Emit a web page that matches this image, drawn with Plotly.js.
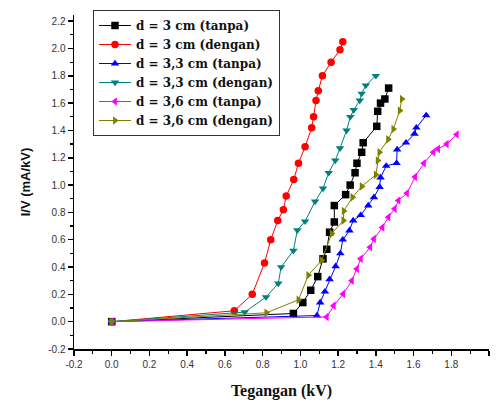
<!DOCTYPE html>
<html>
<head>
<meta charset="utf-8">
<script src="https://cdn.plot.ly/plotly-3.0.1.min.js"></script>
<style>html,body{margin:0;padding:0;background:#fff}#chart{width:496px;height:405px}</style>
</head>
<body>
<div id="chart"></div>
<script>
// Series names
const seriesNames = [
  "d = 3 cm (tanpa)",
  "d = 3 cm (dengan)",
  "d = 3,3 cm (tanpa)",
  "d = 3,3 cm (dengan)",
  "d = 3,6 cm (tanpa)",
  "d = 3,6 cm (dengan)"
];

// d = 3 cm (tanpa)
const x3tanpa = [0, 0.963, 1.013, 1.055, 1.092, 1.12, 1.14, 1.155, 1.18, 1.18, 1.24, 1.264, 1.29, 1.30, 1.325, 1.333, 1.405, 1.41, 1.425, 1.448, 1.468];
const y3tanpa = [0, 0.06, 0.14, 0.23, 0.33, 0.46, 0.53, 0.655, 0.73, 0.85, 0.93, 1.00, 1.09, 1.16, 1.24, 1.31, 1.43, 1.54, 1.60, 1.63, 1.71];

// d = 3 cm (dengan)
const x3dengan = [0, 0.65, 0.745, 0.81, 0.843, 0.88, 0.91, 0.925, 0.965, 0.99, 1.025, 1.06, 1.07, 1.083, 1.095, 1.117, 1.163, 1.21, 1.225];
const y3dengan = [0, 0.08, 0.20, 0.43, 0.60, 0.74, 0.82, 0.92, 1.04, 1.16, 1.28, 1.42, 1.50, 1.62, 1.69, 1.80, 1.90, 1.99, 2.05];

// d = 3,3 cm (tanpa)
const x33tanpa = [0, 1.088, 1.105, 1.13, 1.155, 1.187, 1.212, 1.225, 1.26, 1.28, 1.32, 1.36, 1.39, 1.42, 1.425, 1.455, 1.51, 1.513, 1.56, 1.605, 1.615, 1.667];
const y33tanpa = [0, 0.045, 0.14, 0.22, 0.31, 0.405, 0.50, 0.60, 0.667, 0.74, 0.78, 0.85, 0.91, 0.985, 1.055, 1.14, 1.16, 1.26, 1.31, 1.375, 1.42, 1.51];

// d = 3,3 cm (dengan)
const x33dengan = [0, 0.705, 0.818, 0.883, 0.898, 0.963, 0.984, 1.025, 1.078, 1.12, 1.15, 1.185, 1.21, 1.245, 1.265, 1.283, 1.315, 1.325, 1.347, 1.40];
const y33dengan = [0, 0.07, 0.18, 0.28, 0.40, 0.52, 0.67, 0.735, 0.88, 0.975, 1.09, 1.18, 1.27, 1.40, 1.50, 1.55, 1.62, 1.67, 1.73, 1.80];

// d = 3,6 cm (tanpa)
const x36tanpa = [0, 1.14, 1.177, 1.227, 1.273, 1.30, 1.32, 1.37, 1.39, 1.435, 1.467, 1.50, 1.52, 1.565, 1.608, 1.655, 1.705, 1.73, 1.776, 1.829];
const y36tanpa = [0, 0.035, 0.117, 0.203, 0.30, 0.386, 0.46, 0.545, 0.606, 0.69, 0.765, 0.826, 0.887, 0.94, 1.06, 1.16, 1.24, 1.265, 1.30, 1.37];

// d = 3,6 cm (dengan)
const x36dengan = [0, 0.82, 0.99, 1.042, 1.113, 1.166, 1.228, 1.23, 1.276, 1.325, 1.40, 1.41, 1.419, 1.465, 1.493, 1.527, 1.538];
const y36dengan = [0, 0.065, 0.16, 0.34, 0.45, 0.645, 0.74, 0.81, 0.91, 0.99, 1.075, 1.18, 1.24, 1.335, 1.41, 1.545, 1.63];

// Tick labels
const xTickVals = [-0.2, 0.0, 0.2, 0.4, 0.6, 0.8, 1.0, 1.2, 1.4, 1.6, 1.8, 2.0];
const xTickText = ["-0.2", "0.0", "0.2", "0.4", "0.6", "0.8", "1.0", "1.2", "1.4", "1.6", "1.8", "2.0"];
const yTickVals = [-0.2, 0.0, 0.2, 0.4, 0.6, 0.8, 1.0, 1.2, 1.4, 1.6, 1.8, 2.0, 2.2];
const yTickText = ["-0.2", "0.0", "0.2", "0.4", "0.6", "0.8", "1.0", "1.2", "1.4", "1.6", "1.8", "2.0", "2.2"];

const colors = ["#000000", "#ff0000", "#0000ff", "#008080", "#ff00ff", "#808000"];
const symbols = ["square", "circle", "triangle-up", "triangle-down", "triangle-left", "triangle-right"];
const xs = [x3tanpa, x3dengan, x33tanpa, x33dengan, x36tanpa, x36dengan];
const ys = [y3tanpa, y3dengan, y33tanpa, y33dengan, y36tanpa, y36dengan];

const traces = seriesNames.map((name, i) => ({
  type: "scatter",
  mode: "lines+markers",
  name: name,
  x: xs[i],
  y: ys[i],
  line: {color: colors[i], width: 1},
  marker: {color: colors[i], symbol: symbols[i], size: 7.5, line: {width: 0}}
}));

const W = 496, H = 405;
const M = {l: 74, r: 7, t: 15, b: 56};
const pw = W - M.l - M.r, ph = H - M.t - M.b;
const px2x = p => (p - M.l) / pw;
const py2y = p => (H - M.b - p) / ph;

const layout = {
  width: W, height: H,
  margin: M,
  paper_bgcolor: "#fff", plot_bgcolor: "#fff",
  showlegend: true,
  legend: {
    x: px2x(93), y: py2y(10), xanchor: "left", yanchor: "top",
    bgcolor: "#fff", bordercolor: "#333", borderwidth: 1,
    font: {family: "DejaVu Serif, serif", size: 12, color: "#111", weight: "bold"},
    itemwidth: 32, tracegroupgap: 0
  },
  xaxis: {
    range: [-0.2, 2.0],
    tickmode: "array", tickvals: xTickVals, ticktext: xTickText,
    ticks: "outside", ticklen: 5, tickwidth: 1.5, tickcolor: "#000",
    minor: {dtick: 0.1, ticks: "outside", ticklen: 3, tickwidth: 1.2, tickcolor: "#000", showgrid: false},
    showline: true, linecolor: "#000", linewidth: 1.5,
    showgrid: false, zeroline: false,
    tickfont: {family: "Liberation Sans, Arial, sans-serif", size: 10, color: "#333"},
    title: {text: "<b>Tegangan (kV)</b>", font: {family: "Liberation Serif, serif", size: 16, color: "#111"}, standoff: 16}
  },
  yaxis: {
    range: [-0.2, 2.245],
    tickmode: "array", tickvals: yTickVals, ticktext: yTickText,
    ticks: "outside", ticklen: 5, tickwidth: 1.5, tickcolor: "#000",
    minor: {dtick: 0.1, ticks: "outside", ticklen: 3, tickwidth: 1.2, tickcolor: "#000", showgrid: false},
    showline: true, linecolor: "#000", linewidth: 1.5,
    showgrid: false, zeroline: false,
    tickfont: {family: "Liberation Sans, Arial, sans-serif", size: 10, color: "#333"},
    title: {text: "<b>I/V (mA/kV)</b>", font: {family: "Liberation Sans, Arial, sans-serif", size: 13, color: "#111"}, standoff: 14}
  },
  shapes: [{
    type: "rect", xref: "paper", yref: "paper",
    x0: px2x(95), x1: px2x(134), y0: py2y(31), y1: py2y(12),
    line: {color: "#ff3030", width: 1}
  }]
};

Plotly.newPlot("chart", traces, layout, {displayModeBar: false, staticPlot: true});
</script>
</body>
</html>
